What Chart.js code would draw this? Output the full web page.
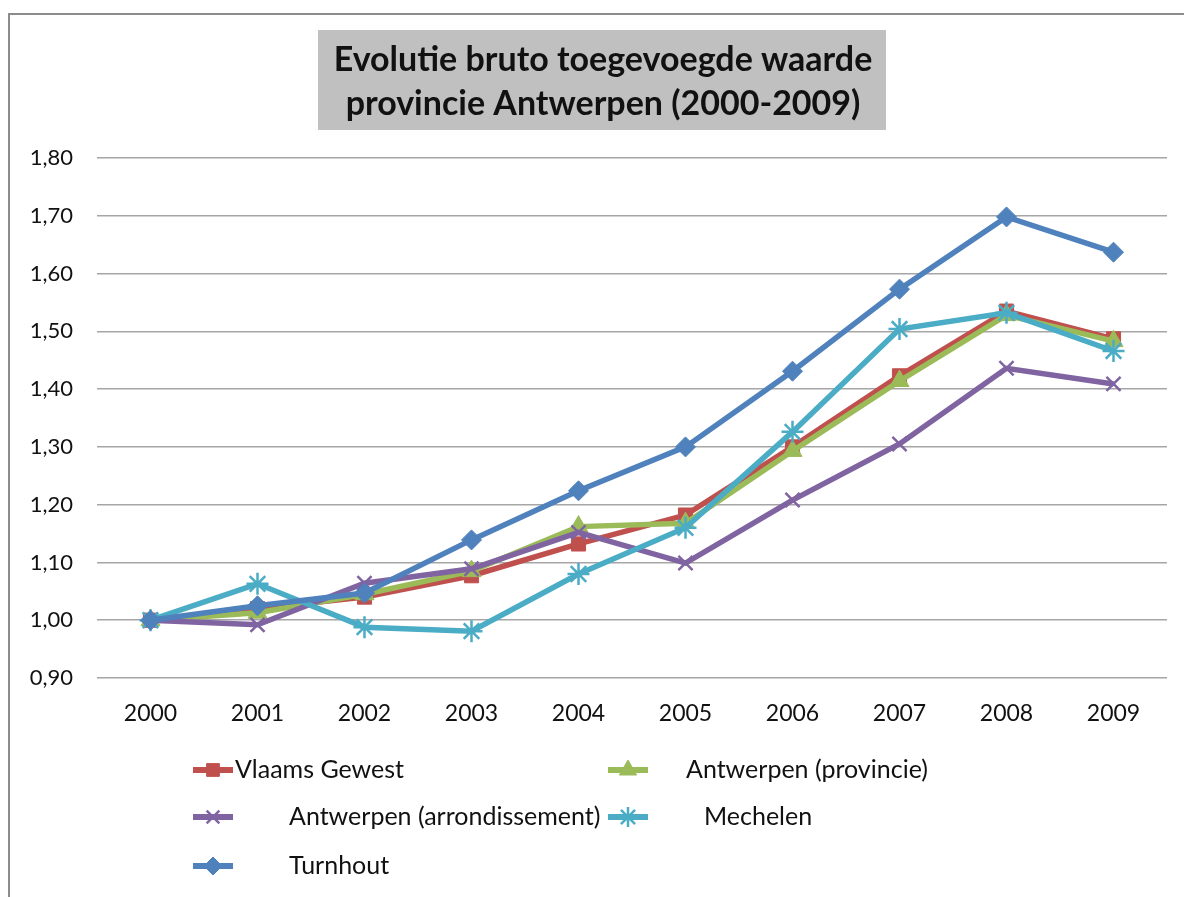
<!DOCTYPE html>
<html>
<head>
<meta charset="utf-8">
<script src="https://cdn.jsdelivr.net/npm/chart.js@4/dist/chart.umd.min.js"></script>
<style>
  html, body { margin: 0; padding: 0; background: #fff; }
  #wrap { width: 1184px; height: 897px; position: relative; }
</style>
</head>
<body>
<div id="wrap"><canvas id="bvChart"></canvas></div>
<script>
const years = ['2000', '2001', '2002', '2003', '2004', '2005', '2006', '2007', '2008', '2009'];
const titleLines = ['Evolutie bruto toegevoegde waarde', 'provincie Antwerpen (2000-2009)'];

const vlaamsGewest = [1.00, 1.020, 1.040, 1.077, 1.132, 1.182, 1.300, 1.423, 1.535, 1.487];
const antwerpenProv = [1.00, 1.013, 1.045, 1.085, 1.162, 1.168, 1.293, 1.414, 1.528, 1.483];
const antwerpenArr = [1.00, 0.992, 1.064, 1.089, 1.152, 1.099, 1.208, 1.305, 1.436, 1.409];
const mechelen = [1.00, 1.063, 0.988, 0.981, 1.080, 1.160, 1.326, 1.504, 1.532, 1.466];
const turnhout = [1.00, 1.025, 1.047, 1.139, 1.224, 1.300, 1.431, 1.573, 1.698, 1.637];

const FONT = 'Lato, "Liberation Sans", sans-serif';
const TEXT = '#111';

// legend layout (line start, text start, row centre)
const legendSpots = [
    { x: 193, tx: 235, y: 770 },
    { x: 608, tx: 686, y: 770 },
    { x: 193, tx: 289, y: 817 },
    { x: 608, tx: 704, y: 817 },
    { x: 193, tx: 289, y: 866 }
];

function series(label, data, color, style, radius, order) {
    return {
        label: label,
        data: data,
        borderColor: color,
        backgroundColor: color,
        pointBackgroundColor: color,
        pointBorderColor: color,
        pointStyle: style,
        pointRadius: radius,
        pointBorderWidth: (style === 'crossRot' || style === 'star') ? 2.5 : 1,
        borderWidth: 5.5,
        tension: 0,
        order: order
    };
}

const framePlugin = {
    id: 'frame',
    beforeDraw(chart) {
        const ctx = chart.ctx;
        ctx.save();
        ctx.strokeStyle = '#8c8c8c';
        ctx.lineWidth = 2;
        ctx.beginPath();
        ctx.moveTo(9, chart.height);
        ctx.lineTo(9, 14);
        ctx.lineTo(chart.width, 14);
        ctx.stroke();

        // title box
        ctx.fillStyle = '#c0c0c0';
        ctx.fillRect(318, 30, 568, 100);
        ctx.fillStyle = TEXT;
        ctx.font = 'bold 34px ' + FONT;
        ctx.textAlign = 'center';
        ctx.textBaseline = 'middle';
        ctx.fillText(titleLines[0], 603, 60);
        ctx.fillText(titleLines[1], 603, 104);
        ctx.restore();
    }
};

const legendPlugin = {
    id: 'customLegend',
    afterDraw(chart) {
        const ctx = chart.ctx;
        ctx.save();
        chart.data.datasets.forEach((ds, i) => {
            const s = legendSpots[i];
            ctx.strokeStyle = ds.borderColor;
            ctx.lineWidth = 6;
            ctx.beginPath();
            ctx.moveTo(s.x, s.y);
            ctx.lineTo(s.x + 40, s.y);
            ctx.stroke();
            ctx.fillStyle = ds.pointBackgroundColor;
            ctx.strokeStyle = ds.pointBorderColor;
            ctx.lineWidth = ds.pointBorderWidth;
            Chart.helpers.drawPoint(ctx, {
                pointStyle: ds.pointStyle,
                radius: ds.pointRadius - 1,
                rotation: 0,
                borderWidth: ds.pointBorderWidth
            }, s.x + 20, s.y);
            ctx.fillStyle = TEXT;
            ctx.font = '25px ' + FONT;
            ctx.textAlign = 'left';
            ctx.textBaseline = 'middle';
            ctx.fillText(ds.label, s.tx, s.y);
        });
        ctx.restore();
    }
};

new Chart(document.getElementById('bvChart'), {
    type: 'line',
    data: {
        labels: years,
        datasets: [
            series('Vlaams Gewest', vlaamsGewest, '#c0504d', 'rect', 10, 4),
            series('Antwerpen (provincie)', antwerpenProv, '#9bbb59', 'triangle', 11, 3),
            series('Antwerpen (arrondissement)', antwerpenArr, '#8064a2', 'crossRot', 10, 2),
            series('Mechelen', mechelen, '#4bacc6', 'star', 11, 1),
            series('Turnhout', turnhout, '#4f81bd', 'rectRot', 10, 0)
        ]
    },
    options: {
        responsive: true,
        maintainAspectRatio: false,
        animation: false,
        layout: {
            padding: { top: 158, right: 17, left: 0, bottom: 0 }
        },
        plugins: {
            legend: { display: false },
            title: { display: false },
            tooltip: { enabled: false }
        },
        scales: {
            x: {
                offset: true,
                grid: { display: false, drawTicks: false },
                border: { display: false },
                ticks: {
                    color: TEXT,
                    font: { family: FONT, size: 23 },
                    padding: 22,
                    maxRotation: 0
                },
                afterFit(scale) { scale.height = 219; }
            },
            y: {
                min: 0.9,
                max: 1.8,
                grid: { color: '#a6a6a6', lineWidth: 1.5, drawTicks: false },
                border: { display: false },
                ticks: {
                    stepSize: 0.1,
                    color: TEXT,
                    font: { family: FONT, size: 22 },
                    padding: 24,
                    callback: (v) => v.toFixed(2).replace('.', ',')
                },
                afterFit(scale) { scale.width = 97; }
            }
        }
    },
    plugins: [framePlugin, legendPlugin]
});
</script>
</body>
</html>
